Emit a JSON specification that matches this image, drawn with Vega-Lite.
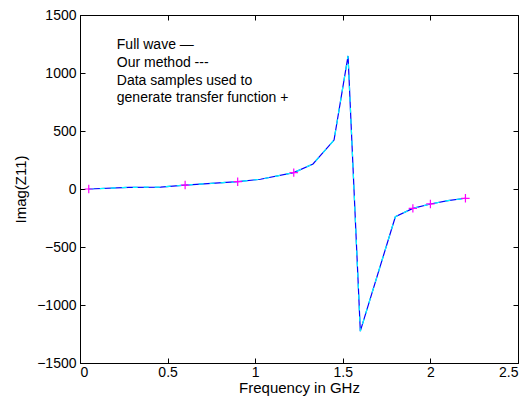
{
  "$schema": "https://vega.github.io/schema/vega-lite/v6.json",
  "width": 438,
  "height": 348,
  "autosize": {"type": "none"},
  "padding": {"left": 80, "top": 15, "right": 11, "bottom": 40},
  "background": "white",
  "config": {
    "view": {"stroke": "black", "strokeWidth": 1},
    "font": "Liberation Sans",
    "axis": {
      "domainColor": "black",
      "tickColor": "black",
      "labelColor": "black",
      "titleColor": "black",
      "labelFont": "Liberation Sans",
      "titleFont": "Liberation Sans",
      "labelFontSize": 14,
      "titleFontSize": 15,
      "titleFontWeight": "normal",
      "grid": false,
      "tickSize": -5
    }
  },
  "datasets": {
    "curve": [
      {"f": 0.05, "v": 0},
      {"f": 0.28, "v": 14},
      {"f": 0.46, "v": 17},
      {"f": 0.6, "v": 34},
      {"f": 0.9, "v": 63},
      {"f": 1.03, "v": 84},
      {"f": 1.22, "v": 141},
      {"f": 1.33, "v": 216},
      {"f": 1.45, "v": 422},
      {"f": 1.53, "v": 1147},
      {"f": 1.6, "v": -1225},
      {"f": 1.8, "v": -239},
      {"f": 1.9, "v": -167},
      {"f": 2.0, "v": -129},
      {"f": 2.1, "v": -100},
      {"f": 2.2, "v": -80}
    ],
    "samples": [
      {"f": 0.05, "v": 0},
      {"f": 0.6, "v": 34},
      {"f": 0.9, "v": 63},
      {"f": 1.22, "v": 141},
      {"f": 1.9, "v": -167},
      {"f": 2.0, "v": -129},
      {"f": 2.2, "v": -80}
    ],
    "notes": [
      {"label": "Full wave  —", "x": 0.21, "y": 1241},
      {"label": "Our method ---", "x": 0.21, "y": 1086},
      {"label": "Data samples used to", "x": 0.21, "y": 931},
      {"label": "generate transfer function +", "x": 0.21, "y": 784}
    ]
  },
  "layer": [
    {
      "data": {"name": "curve"},
      "mark": {"type": "line", "color": "#0000ff", "strokeWidth": 1.2},
      "encoding": {
        "x": {"field": "f", "type": "quantitative", "scale": {"domain": [0, 2.5], "nice": false, "zero": false},
          "axis": {"title": "Frequency in GHz", "values": [0, 0.5, 1, 1.5, 2, 2.5], "format": "~g", "labelPadding": 7, "titlePadding": 1}},
        "y": {"field": "v", "type": "quantitative", "scale": {"domain": [-1500, 1500], "nice": false},
          "axis": {"title": "Imag(Z11)", "values": [-1500, -1000, -500, 0, 500, 1000, 1500], "format": "d", "labelPadding": 9, "titlePadding": 8}}
      }
    },
    {
      "data": {"name": "curve"},
      "mark": {"type": "line", "color": "#00ffff", "strokeWidth": 1.2, "strokeDash": [5, 6]},
      "encoding": {
        "x": {"field": "f", "type": "quantitative", "axis": null},
        "y": {"field": "v", "type": "quantitative", "axis": null}
      }
    },
    {
      "data": {"name": "samples"},
      "mark": {"type": "point", "shape": "M-1,0L1,0M0,-1L0,1", "size": 70, "filled": false, "stroke": "#ff00ff", "strokeWidth": 1.2, "opacity": 1},
      "encoding": {
        "x": {"field": "f", "type": "quantitative", "axis": {"orient": "top", "labels": false, "title": null, "domain": false, "values": [0, 0.5, 1, 1.5, 2, 2.5]}},
        "y": {"field": "v", "type": "quantitative", "axis": {"orient": "right", "labels": false, "title": null, "domain": false, "values": [-1500, -1000, -500, 0, 500, 1000, 1500]}}
      }
    },
    {
      "data": {"name": "notes"},
      "mark": {"type": "text", "align": "left", "baseline": "middle", "fontSize": 14, "color": "black", "font": "Liberation Sans"},
      "encoding": {
        "x": {"field": "x", "type": "quantitative", "axis": null},
        "y": {"field": "y", "type": "quantitative", "axis": null},
        "text": {"field": "label"}
      }
    }
  ],
  "resolve": {"axis": {"x": "independent", "y": "independent"}}
}
